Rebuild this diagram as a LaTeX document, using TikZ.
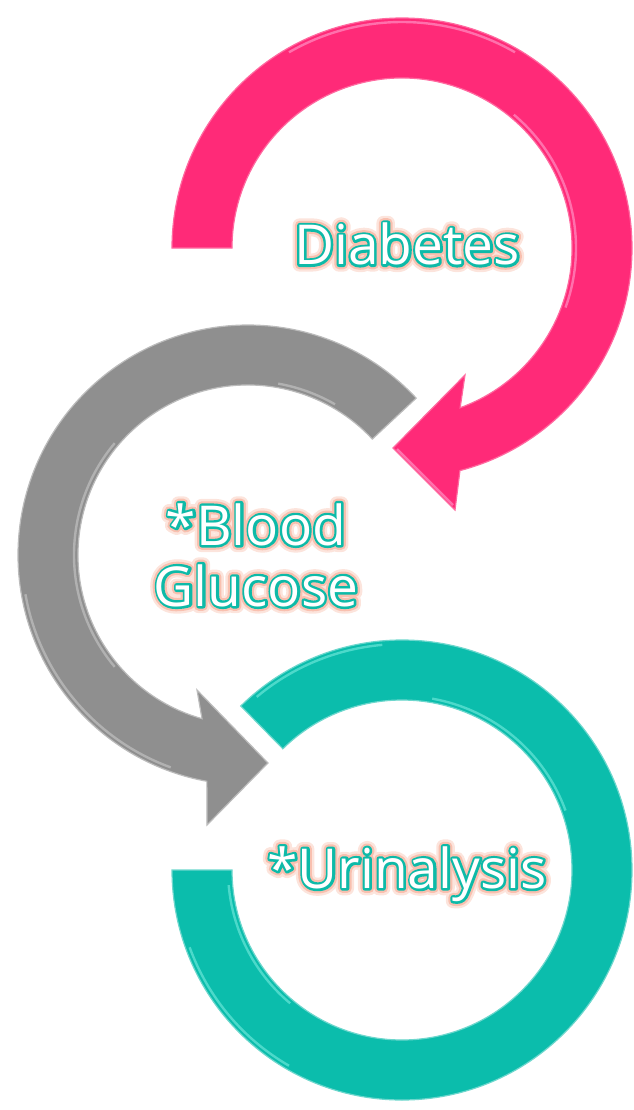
\documentclass[tikz,border=0pt]{standalone}
\usepackage{fontspec}
\setmainfont{Open Sans}
\usetikzlibrary{calc}
\definecolor{pinkc}{RGB}{255,42,120}
\definecolor{pinkhi}{RGB}{255,170,215}
\definecolor{grayc}{RGB}{143,143,143}
\definecolor{grayhi}{RGB}{205,205,205}
\definecolor{tealc}{RGB}{11,189,172}
\definecolor{tealhi}{RGB}{130,240,228}
\definecolor{glowb}{RGB}{252,228,220}
\definecolor{glowa}{RGB}{249,192,175}
\definecolor{txtline}{RGB}{13,186,168}
\newcommand{\gtext}[1]{%
  \rlap{\color{glowb}\special{pdf:literal direct 2 Tr 1 j 1 J 7.0 w}#1\special{pdf:literal direct 0 Tr}}%
  \rlap{\color{glowa}\special{pdf:literal direct 2 Tr 1 j 1 J 4.6 w}#1\special{pdf:literal direct 0 Tr}}%
  \rlap{\color{txtline}\special{pdf:literal direct 2 Tr 1 j 1 J 2.4 w}#1\special{pdf:literal direct 0 Tr}}%
  {\color{white}#1}}
\tikzset{
  lbl/.style={font=\fontsize{27.5}{30.5}\selectfont, align=center, inner sep=0pt},
  hiline/.style={line width=1.2pt, opacity=0.55},
  edge/.style={line width=0.6pt},
}
\begin{document}
\begin{tikzpicture}[x=0.5pt,y=0.5pt]
\useasboundingbox (0,0) rectangle (633,-1110);
\coordinate (P) at (402,-248);
\coordinate (G) at (248,-555);
\coordinate (T) at (402,-870);
% pink arrow
\filldraw[fill=pinkc, draw=pinkc!70!white, edge] ($(P)+(180:230)$) arc[start angle=180, end angle=-75.4, radius=230]
  -- (455,-510) -- (393,-448) -- (465,-375) -- ($(P)+(-70:170)$)
  arc[start angle=-70, end angle=180, radius=170] -- cycle;
\draw[pinkhi, hiline] ($(P)+(50:174)$) arc[start angle=50, end angle=-20, radius=174];
\draw[pinkhi, hiline] ($(P)+(120:226)$) arc[start angle=120, end angle=60, radius=226];
\draw[pinkhi, hiline] (397,-449) -- (453,-505);
% gray arrow
\filldraw[fill=grayc, draw=grayc!60!white, edge] ($(G)+(43:230)$) arc[start angle=43, end angle=259.7, radius=230]
  -- (207,-825) -- (268,-763) -- (197,-690) -- ($(G)+(254.3:170)$)
  arc[start angle=254.3, end angle=43, radius=170] -- cycle;
\draw[grayhi, hiline] ($(G)+(190:226)$) arc[start angle=190, end angle=250, radius=226];
\draw[grayhi, hiline] ($(G)+(140:174)$) arc[start angle=140, end angle=220, radius=174];
\draw[grayhi, hiline] ($(G)+(60:174)$) arc[start angle=60, end angle=80, radius=174];
% teal ring arrow
\filldraw[fill=tealc, draw=tealc!60!white, edge] ($(T)+(180:230)$) arc[start angle=180, end angle=494.5, radius=230]
  -- ($(T)+(134.5:170)$) arc[start angle=494.5, end angle=180, radius=170] -- cycle;
\draw[tealhi, hiline] ($(T)+(185:174)$) arc[start angle=185, end angle=230, radius=174];
\draw[tealhi, hiline] ($(T)+(20:174)$) arc[start angle=20, end angle=80, radius=174];
\draw[tealhi, hiline] ($(T)+(95:226)$) arc[start angle=95, end angle=130, radius=226];
\draw[tealhi, hiline] ($(T)+(200:226)$) arc[start angle=200, end angle=240, radius=226];
% labels
\node[lbl] (dia) at (407,-244) {\gtext{Diabetes}};
\node[lbl] (blood) at (256,-555) {\gtext{*Blood}\\\gtext{Glucose}};
\node[lbl] (uri) at (407,-874) {\gtext{*Urinalysis}};
\end{tikzpicture}
\end{document}
